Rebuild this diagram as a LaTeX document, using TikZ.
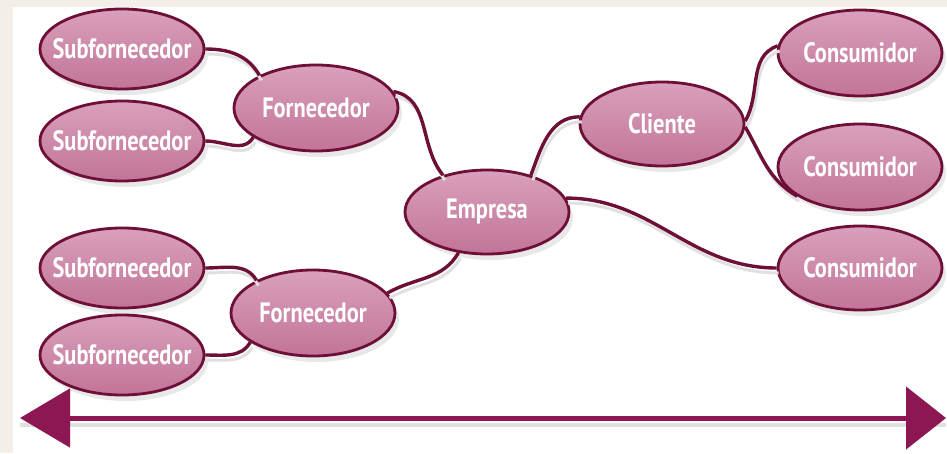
\documentclass[tikz,border=0pt]{standalone}
\usepackage{fontspec}
\setmainfont{PT Sans}[FakeStretch=0.8]
\usepackage{tikz}
\usepackage{xcolor}
\usetikzlibrary{arrows.meta,shapes.geometric,positioning,shadows}

\definecolor{wine}{HTML}{6E0F38}
\definecolor{arrowwine}{HTML}{8C1752}
\definecolor{pinktop}{HTML}{D9A0BC}
\definecolor{pinkbot}{HTML}{C27497}
\definecolor{paper}{HTML}{F3EEE8}

% label with no width, so the ellipse keeps its size
\newcommand{\lbl}[1]{\makebox[0pt]{#1}}

\begin{document}
\begin{tikzpicture}[x=1pt, y=1pt,
    actor/.style={ellipse, draw=wine, line width=2.8pt, top color=pinktop, bottom color=pinkbot,
        minimum width=164pt, minimum height=80pt, inner sep=0pt, text=white,
        font=\fontsize{28}{30}\selectfont\bfseries,
        drop shadow={shadow xshift=4pt, shadow yshift=-6pt, opacity=0.18}},
    link/.style={draw=wine, line width=3.4pt,
        preaction={draw=black!12, line width=3pt, transform canvas={xshift=2pt, yshift=-5pt}}}]
    % background
    \useasboundingbox (0,0) rectangle (947,453);
    \fill[paper] (0,0) rectangle (947,453);
    \fill[white] (13,0) rectangle (947,446);

    % Ellipses for the supply chain
    \node[actor] (sub1) at (122,404) {\lbl{Subfornecedor}};
    \node[actor] (sub2) at (122,312) {\lbl{Subfornecedor}};
    \node[actor] (sub3) at (122,185) {\lbl{Subfornecedor}};
    \node[actor] (sub4) at (122,98) {\lbl{Subfornecedor}};
    \node[actor, minimum height=86pt] (forn1) at (316,345) {\lbl{Fornecedor}};
    \node[actor, minimum height=86pt] (forn2) at (313,140) {\lbl{Fornecedor}};
    \node[actor, minimum height=84pt] (empresa) at (487,241) {\lbl{Empresa}};
    \node[actor, minimum height=84pt] (cliente) at (662,329) {\lbl{Cliente}};
    \node[actor, minimum height=86pt] (cons1) at (860,400) {\lbl{Consumidor}};
    \node[actor, minimum height=86pt] (cons2) at (860,286) {\lbl{Consumidor}};
    \node[actor, minimum height=84pt] (cons3) at (860,185) {\lbl{Consumidor}};

    % Curved links
    \draw[link] (sub1.east) to[out=0, in=120] (forn1.150);
    \draw[link] (sub2.east) to[out=0, in=-120] (forn1.205);
    \draw[link] (sub3.east) to[out=0, in=120] (forn2.150);
    \draw[link] (sub4.east) to[out=0, in=-120] (forn2.205);
    \draw[link] (forn1.12) to[out=-10, in=130] (empresa.140);
    \draw[link] (forn2.15) to[out=30, in=-120] (empresa.235);
    \draw[link] (empresa.40) to[out=70, in=180] (cliente.175);
    \draw[link] (empresa.10) to[out=0, in=180] (cons3.west);
    \draw[link] (cliente.2) to[out=60, in=200] (cons1.175);
    \draw[link] (cliente.-2) to[out=-60, in=150] (cons2.205);

    % Double arrow along the bottom
    \coordinate (lefttip) at (20,35);
    \coordinate (righttip) at (946,35);
    \draw[draw=black!12, line width=4pt, transform canvas={yshift=-7pt}] (lefttip) -- (righttip);
    \draw[arrowwine, line width=5pt, {Triangle[length=50pt, width=58pt]}-{Triangle[length=40pt, width=62pt]}] (lefttip) -- (righttip);
\end{tikzpicture}
\end{document}
